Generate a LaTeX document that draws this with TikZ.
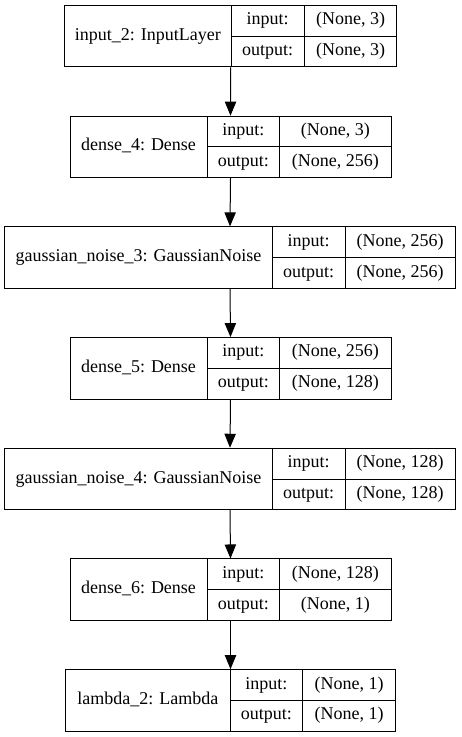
\documentclass[tikz,border=0pt]{standalone}
\usepackage{fontspec}
\setmainfont{Liberation Serif}
\usetikzlibrary{arrows.meta}
\begin{document}
\begin{tikzpicture}[x=0.75pt,y=-0.75pt,line width=0.75pt,>={Triangle[length=10.5pt,width=8.5pt]},
    box/.style={draw,inner sep=0pt,minimum height=46.1pt},
    txt/.style={font=\fontsize{13.5}{16}\selectfont,inner sep=0pt,text height=0.75em,text depth=0.15em}]
    \useasboundingbox (0,0) rectangle (461,737);
    \foreach \i/\xa/\xb/\xc/\xd/\name/\in/\out in {
        {1/64.5/231/304.3/396.7/input\_2: InputLayer/(None, 3)/(None, 3)},
        {2/70/207/279.5/391/dense\_4: Dense/(None, 3)/(None, 256)},
        {3/4.7/272.3/345/455.3/gaussian\_noise\_3: GaussianNoise/(None, 256)/(None, 256)},
        {4/70/207/279.5/391/dense\_5: Dense/(None, 256)/(None, 128)},
        {5/4.7/272.3/345/455.3/gaussian\_noise\_4: GaussianNoise/(None, 128)/(None, 128)},
        {6/70/207/279.5/391/dense\_6: Dense/(None, 128)/(None, 1)},
        {7/65.7/230/302.7/395.3/lambda\_2: Lambda/(None, 1)/(None, 1)}}{
        \pgfmathsetmacro\yc{36.2+110.7*(\i-1)}
        \pgfmathsetmacro\ya{\yc-30.75}
        \pgfmathsetmacro\yb{\yc+30.75}
        \pgfmathsetmacro\w{(\xd-\xa)*0.75}
        \node[box,minimum width=\w pt] (l\i) at ({(\xa+\xd)/2},\yc) {};
        \draw (\xb,\ya) -- (\xb,\yb) (\xc,\ya) -- (\xc,\yb) (\xb,\yc) -- (\xd,\yc);
        \node[txt] (n\i) at ({(\xa+\xb)/2},\yc) {\name};
        \node[txt] (pi\i) at ({(\xb+\xc)/2},{\yc-15.4}) {input:};
        \node[txt] (po\i) at ({(\xb+\xc)/2},{\yc+15.4}) {output:};
        \node[txt] (vi\i) at ({(\xc+\xd)/2},{\yc-15.4}) {\in};
        \node[txt] (vo\i) at ({(\xc+\xd)/2},{\yc+15.4}) {\out};
    }
    \foreach \i [evaluate=\i as \j using int(\i+1)] in {1,...,6}
        \draw[->] (l\i.south) -- (l\j.north);
\end{tikzpicture}
\end{document}
